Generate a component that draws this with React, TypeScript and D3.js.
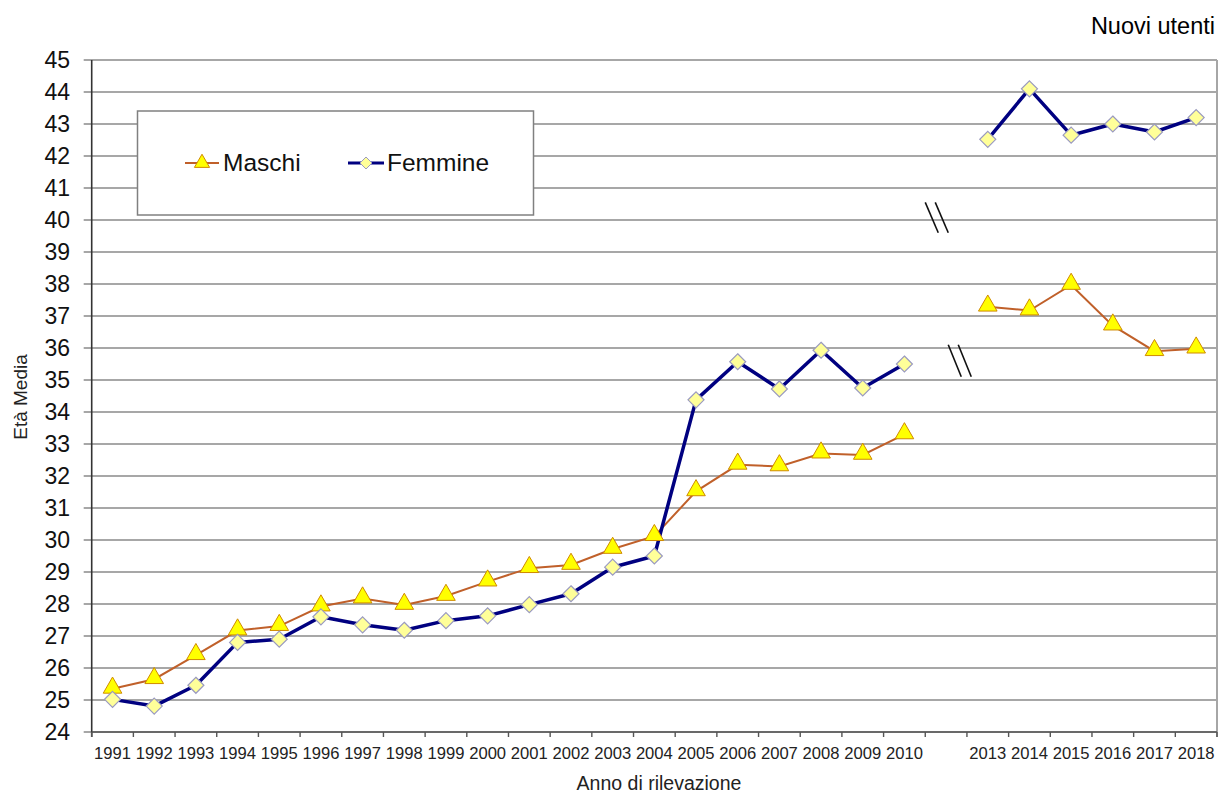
import React from 'react';
import * as d3 from 'd3';

// categories on the x axis; '' is the empty slot between 2010 and 2013
const years = [
  '1991', '1992', '1993', '1994', '1995', '1996', '1997', '1998', '1999', '2000',
  '2001', '2002', '2003', '2004', '2005', '2006', '2007', '2008', '2009', '2010',
  '', '2013', '2014', '2015', '2016', '2017', '2018',
];

const maschi: (number | null)[] = [
  25.35, 25.65, 26.4, 27.17, 27.31, 27.92, 28.17, 27.97, 28.25, 28.7,
  29.12, 29.22, 29.72, 30.12, 31.52, 32.35, 32.3, 32.7, 32.66, 33.3,
  null, 37.29, 37.17, 37.97, 36.7, 35.9, 35.98,
];

const femmine: (number | null)[] = [
  25.02, 24.81, 25.46, 26.8, 26.9, 27.6, 27.35, 27.18, 27.48, 27.63,
  27.98, 28.32, 29.15, 29.5, 34.38, 35.57, 34.72, 35.93, 34.75, 35.5,
  null, 42.52, 44.1, 42.65, 43.0, 42.75, 43.2,
];

const yTicks = d3.range(24, 46);

const FONT = 'Liberation Sans, Arial, sans-serif';

const App = () => {
  const width = 1223;
  const height = 796;
  const left = 91.7;
  const right = 1217;
  const top = 60;
  const bottom = 732;

  const x = d3.scaleBand<number>()
    .domain(d3.range(years.length))
    .range([left, right])
    .padding(0);
  const bw = x.bandwidth();
  const cx = (i: number) => (x(i) as number) + bw / 2;

  const y = d3.scaleLinear().domain([24, 45]).range([bottom, top]);

  const line = d3.line<number | null>()
    .defined((d) => d !== null)
    .x((_, i) => cx(i))
    .y((d) => y(d as number));

  const tri = d3.symbol().type(d3.symbolTriangle).size(150)();
  const diamond = 'M0,-8L8,0L0,8L-8,0Z';

  // the "//" break marks sit inside the empty slot
  const gapIdx = years.indexOf('');
  const bx = x(gapIdx) as number;

  return (
    <svg width={width} height={height} style={{ position: 'absolute', left: 0, top: 0, background: '#fff' }} fontFamily={FONT}>
      {/* gridlines */}
      {yTicks.map((t) => (
        <line key={'g' + t} x1={left - 8} x2={right} y1={y(t)} y2={y(t)} stroke="#8a8a8a" strokeWidth={1.6} />
      ))}
      <line x1={right} x2={right} y1={top} y2={bottom + 5} stroke="#a6a6a6" strokeWidth={2} />
      {/* axes */}
      <line x1={left} x2={left} y1={top} y2={bottom + 5} stroke="#333" strokeWidth={1.6} />
      <line x1={left} x2={right} y1={bottom} y2={bottom} stroke="#555" strokeWidth={1.6} />
      {d3.range(years.length + 1).map((i) => {
        const xx = i < years.length ? (x(i) as number) : right;
        return <line key={'t' + i} x1={xx} x2={xx} y1={bottom} y2={bottom + 5} stroke="#555" strokeWidth={1.4} />;
      })}
      {yTicks.map((t) => (
        <text key={'yl' + t} x={70} y={y(t) + 8} textAnchor="end" fontSize={23} fill="#111">{t}</text>
      ))}
      {years.map((yr, i) => (
        <text key={'xl' + i} x={cx(i)} y={759} textAnchor="middle" fontSize={16.6} fill="#222">{yr}</text>
      ))}
      <text x={659} y={790} textAnchor="middle" fontSize={19.5} fill="#222">Anno di rilevazione</text>
      <text transform={`translate(27, 397) rotate(-90)`} textAnchor="middle" fontSize={19} fill="#222">Età Media</text>
      <text x={1215} y={34} textAnchor="end" fontSize={23.5} fill="#000">Nuovi utenti</text>

      {/* axis break marks */}
      {[0, 10].map((dx) => (
        <line key={'b1' + dx} x1={bx + dx} x2={bx + dx + 13} y1={y(40.55)} y2={y(39.6)} stroke="#111" strokeWidth={1.6} />
      ))}
      {[0, 10].map((dx) => (
        <line key={'b2' + dx} x1={bx + dx + 23} x2={bx + dx + 36} y1={y(36.1)} y2={y(35.1)} stroke="#111" strokeWidth={1.6} />
      ))}

      {/* series */}
      <path d={line(maschi) || ''} fill="none" stroke="#c0602a" strokeWidth={2} />
      <path d={line(femmine) || ''} fill="none" stroke="#000080" strokeWidth={3.5} strokeLinejoin="round" />
      {maschi.map((v, i) => v === null ? null : (
        <path key={'m' + i} d={tri || ''} transform={`translate(${cx(i)},${y(v) - 1})`} fill="#ffff00" stroke="#d08a00" strokeWidth={1} />
      ))}
      {femmine.map((v, i) => v === null ? null : (
        <path key={'f' + i} d={diamond} transform={`translate(${cx(i)},${y(v)})`} fill="#ffff99" stroke="#9a9ac0" strokeWidth={1.2} />
      ))}

      {/* legend */}
      <rect x={137.5} y={111} width={396} height={104} fill="#fff" stroke="#808080" strokeWidth={1.5} />
      <line x1={185} x2={219} y1={163} y2={163} stroke="#c0602a" strokeWidth={2} />
      <path d={d3.symbol().type(d3.symbolTriangle).size(100)() || ''} transform="translate(202,163)" fill="#ffff00" stroke="#d08a00" strokeWidth={1} />
      <text x={223} y={171} fontSize={24.5} fill="#111">Maschi</text>
      <line x1={348} x2={384} y1={163} y2={163} stroke="#000080" strokeWidth={3} />
      <path d="M0,-6L6,0L0,6L-6,0Z" transform="translate(366,163)" fill="#ffff99" stroke="#9a9ac0" strokeWidth={1} />
      <text x={387} y={171} fontSize={24.5} fill="#111">Femmine</text>
    </svg>
  );
};

export default App;
